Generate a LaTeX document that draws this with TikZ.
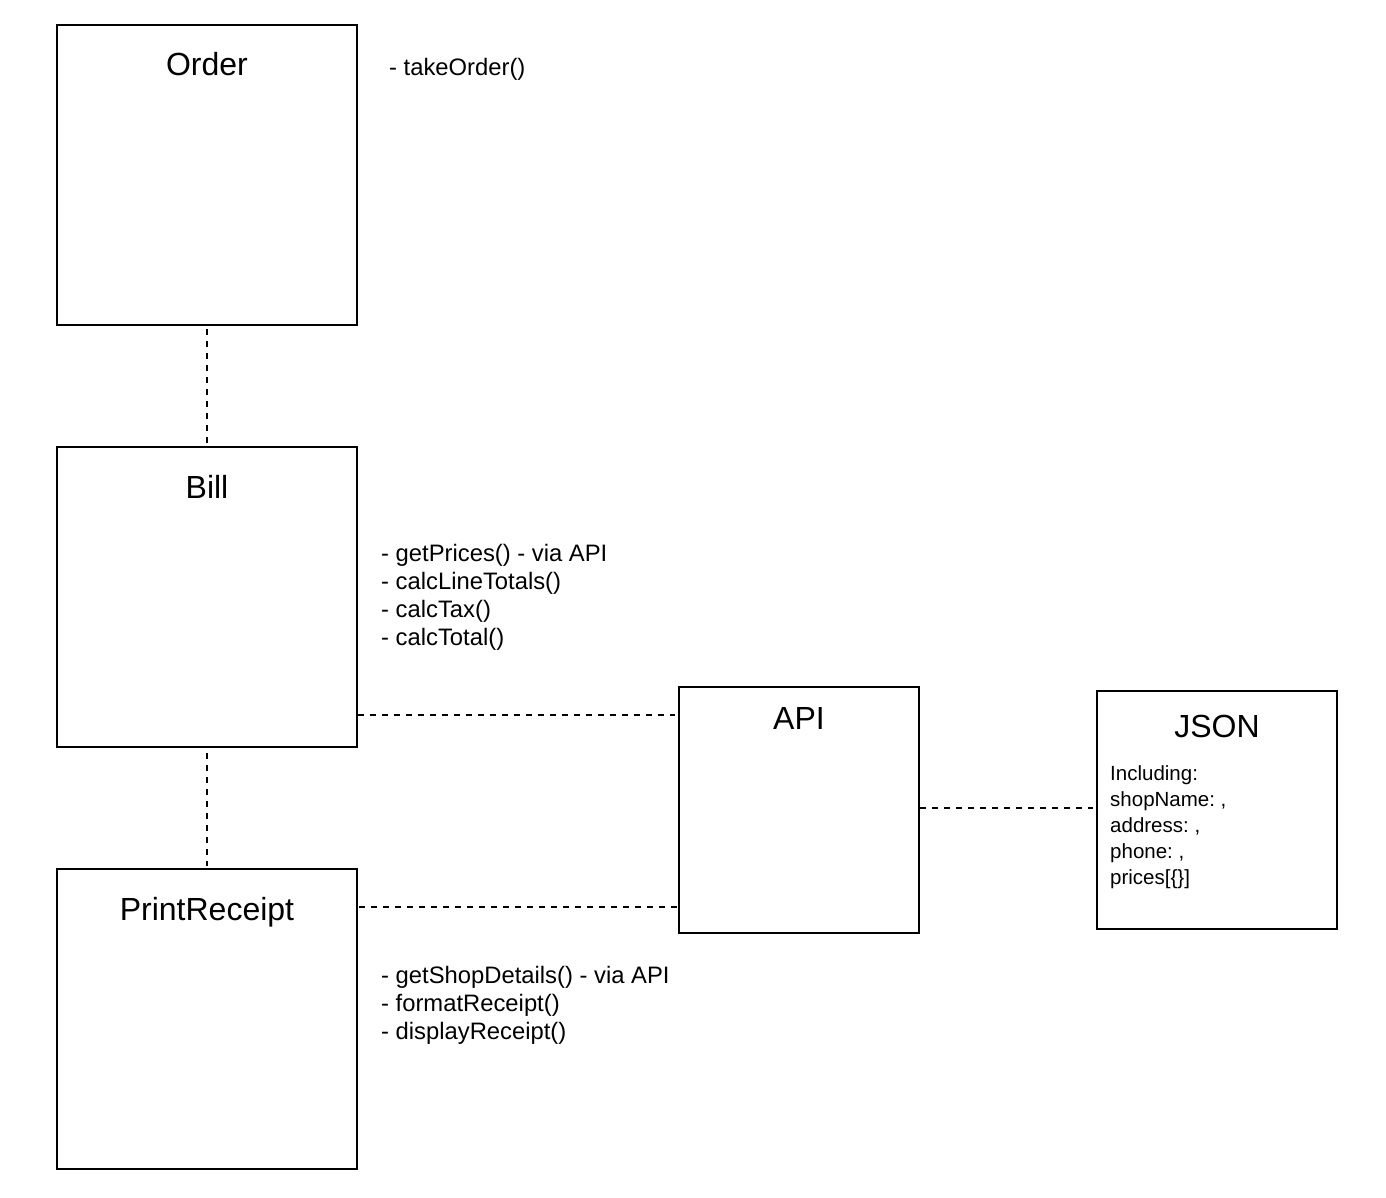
\documentclass[tikz,border=0pt]{standalone}
\usepackage{fontspec}
\setmainfont{Liberation Sans}
\frenchspacing
\begin{document}
\begin{tikzpicture}[x=1pt,y=-1pt,
  box/.style={draw, line width=2pt, fill=white, inner sep=0pt, outer sep=0pt, anchor=north west},
  link/.style={line width=2pt, dash pattern=on 6pt off 6pt},
  title/.style={font=\fontsize{32}{38}\selectfont, anchor=base, inner sep=0pt},
  method/.style={font=\fontsize{23.8}{28}\selectfont, anchor=base west, inner sep=0pt},
  field/.style={font=\fontsize{20.5}{26}\selectfont, anchor=base west, inner sep=0pt}]
\useasboundingbox[fill=white] (0,0) rectangle (1386,1198);

% class boxes
\node[box, minimum width=300pt, minimum height=300pt] (order) at (57,25) {};
\node[box, minimum width=300pt, minimum height=300pt] (bill) at (57,447) {};
\node[box, minimum width=300pt, minimum height=300pt] (receipt) at (57,869) {};
\node[box, minimum width=240pt, minimum height=246pt] (api) at (679,687) {};
\node[box, minimum width=240pt, minimum height=238pt] (json) at (1097,691) {};

% titles
\node[title] (orderT) at (207,76) {Order};
\node[title] (billT) at (207,498) {Bill};
\node[title] (receiptT) at (207,920) {PrintReceipt};
\node[title] (apiT) at (799,729) {API};
\node[title] (jsonT) at (1217,737) {JSON};

% methods
\node[method] (m0) at (389,76) {- takeOrder()};
\foreach \t [count=\i] in {{- getPrices() - via API},{- calcLineTotals()},{- calcTax()},{- calcTotal()}}
  \node[method] (b\i) at (381,533+28*\i) {\t};
\foreach \t [count=\i] in {{- getShopDetails() - via API},{- formatReceipt()},{- displayReceipt()}}
  \node[method] (r\i) at (381,955+28*\i) {\t};

% JSON fields
\foreach \t [count=\i] in {{Including:},{shopName: ,},{address: ,},{phone: ,},{prices[\{\}]}}
  \node[field] (j\i) at (1110,754+26*\i) {\t};

% connectors
\draw[link, shorten <=4pt, shorten >=4pt] (order.south) -- (bill.north);
\draw[link, shorten <=6pt, shorten >=3pt] (bill.south) -- (receipt.north);
\draw[link, shorten <=1pt, shorten >=4pt] ([yshift=32pt]bill.south east) -- ([yshift=-28pt]api.north west);
\draw[link, shorten <=2pt, shorten >=2pt] ([yshift=-38pt]receipt.north east) -- ([yshift=26pt]api.south west);
\draw[link, shorten <=1pt, shorten >=4pt] ([yshift=2pt]api.east) -- ([yshift=2pt]json.west);
\end{tikzpicture}
\end{document}
